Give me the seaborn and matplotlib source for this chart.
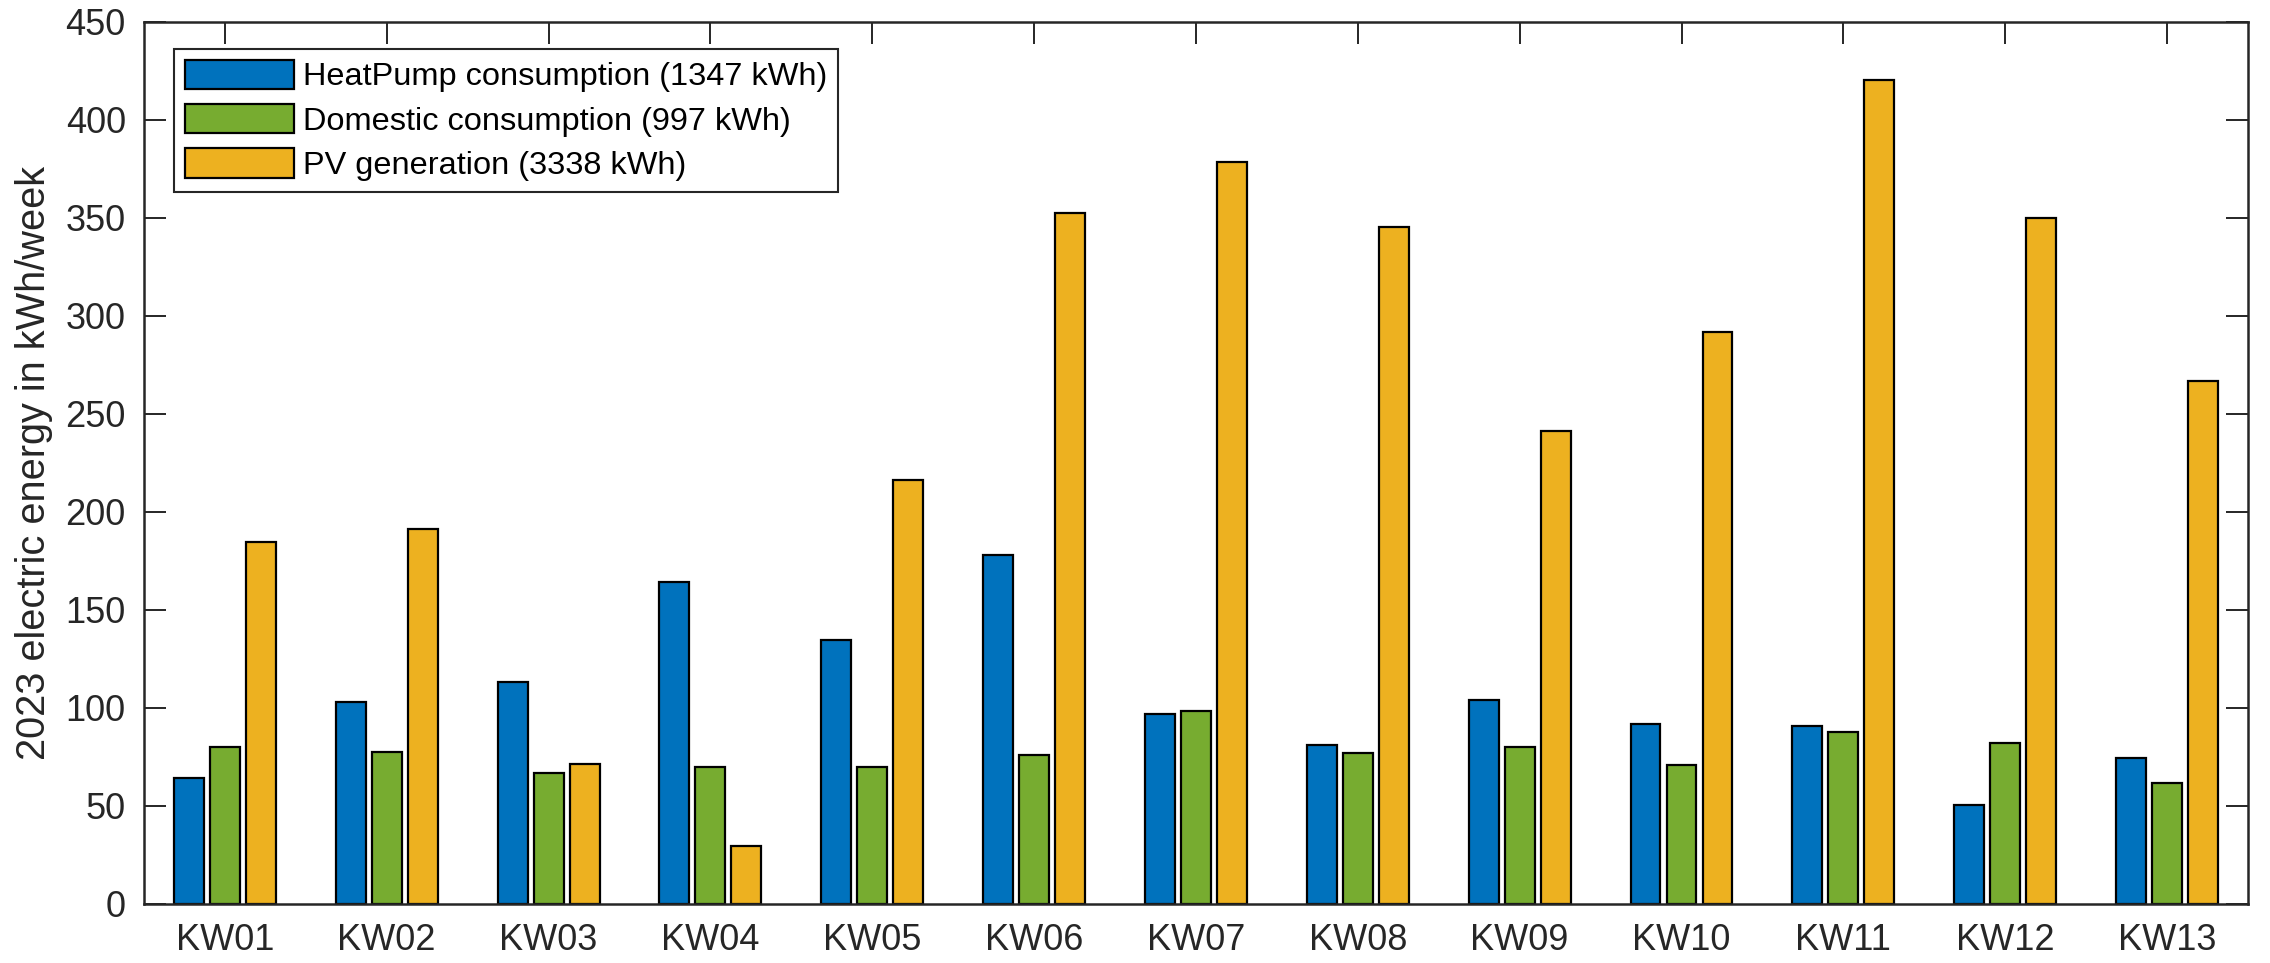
import matplotlib
matplotlib.use("Agg")
import matplotlib.pyplot as plt
import seaborn as sns
import pandas as pd

weeks = ["KW01", "KW02", "KW03", "KW04", "KW05", "KW06", "KW07",
         "KW08", "KW09", "KW10", "KW11", "KW12", "KW13"]
heatpump = [64.5, 103, 113, 164, 134.4, 178, 96.8, 81.2, 104.2, 92, 90.8, 50.5, 74.6]
domestic = [80.3, 77.3, 66.6, 70, 69.7, 75.8, 98.5, 76.8, 80.2, 71, 87.8, 81.9, 61.9]
pv = [184.8, 191.5, 71.4, 29.8, 216, 352.5, 378.5, 345.5, 241.2, 291.8, 420, 349.8, 266.5]
series_names = ["HeatPump consumption (1347 kWh)",
                "Domestic consumption (997 kWh)",
                "PV generation (3338 kWh)"]
colors = ["#0072BD", "#77AC30", "#EDB120"]
yticks = [0, 50, 100, 150, 200, 250, 300, 350, 400, 450]

df = pd.DataFrame({
    "week": weeks * 3,
    "value": heatpump + domestic + pv,
    "series": [series_names[0]] * len(weeks) + [series_names[1]] * len(weeks) + [series_names[2]] * len(weeks),
})

sns.set_theme(style="white")
plt.rcParams["font.family"] = ["Liberation Sans", "DejaVu Sans"]
text_color = "#262626"

fig = plt.figure(figsize=(22.70, 9.63), dpi=100)
ax = fig.add_axes([0.0634, 0.0613, 0.9269, 0.9162])

sns.barplot(data=df, x="week", y="value", hue="series", hue_order=series_names,
            palette=colors, width=0.6675, gap=0.168, edgecolor="black", linewidth=1.6,
            saturation=1, errorbar=None, ax=ax, zorder=3)

ax.set_xlim(-0.5, 12.5)
ax.set_ylim(0, 450)
ax.set_yticks(yticks)
ax.set_xlabel("")
ax.set_ylabel("2023 electric energy in kWh/week", fontsize=28.6, color=text_color, labelpad=9)
ax.tick_params(axis="both", which="both", direction="in", length=15.5, width=1.4,
               labelsize=26, colors=text_color, top=True, right=True, bottom=True, left=True)
ax.tick_params(axis="y", pad=13)
ax.tick_params(axis="x", pad=13.5)
for s in ax.spines.values():
    s.set_visible(True)
    s.set_color(text_color)
    s.set_linewidth(1.8)
    s.set_zorder(5)

leg = ax.legend(loc="upper left", bbox_to_anchor=(0.0145, 0.969), fontsize=23.4,
                frameon=True, fancybox=False, edgecolor=text_color, framealpha=1,
                handlelength=3.35, handleheight=1.0, labelspacing=0.36,
                handletextpad=0.28, borderpad=0.33, borderaxespad=0)
leg.get_frame().set_linewidth(1.5)
for t in leg.get_texts():
    t.set_color("black")

fig.savefig("out.png", dpi=100)
